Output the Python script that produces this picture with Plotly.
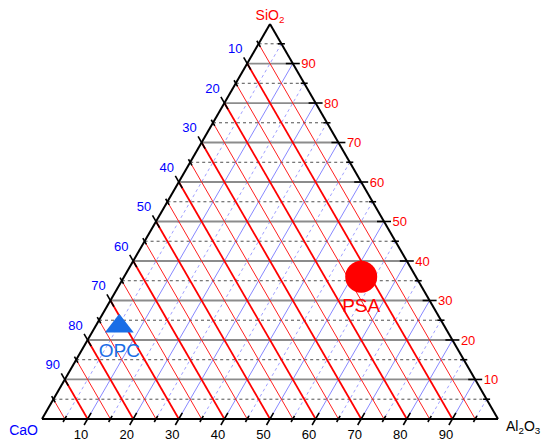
import plotly.graph_objects as go

# ---------------- data ----------------
materials = ["OPC", "PSA"]
sio2 = [23.5, 36.0]
cao = [71.3, 12.0]
al2o3 = [5.2, 52.0]

major_vals = [10, 20, 30, 40, 50, 60, 70, 80, 90]
minor_vals = [5, 15, 25, 35, 45, 55, 65, 75, 85, 95]
tick_labels = ["10", "20", "30", "40", "50", "60", "70", "80", "90"]

# ---------------- styles ----------------
FONT = "Liberation Sans, Arial, sans-serif"
BLUE_TXT = "#0000ff"
RED_TXT = "#ff0000"
OPC_COLOR = "#1a6ee6"
PSA_COLOR = "#ff0000"
CLEAR = "rgba(0,0,0,0)"
TICK_FS = 13
TITLE_FS = 14

fig = go.Figure()


def add_lines(kind, vals, color, width, dash):
    A, B, C = [], [], []
    for v in vals:
        if kind == "a":
            A += [v, v, None]; B += [100 - v, 0, None]; C += [0, 100 - v, None]
        elif kind == "b":
            B += [v, v, None]; A += [100 - v, 0, None]; C += [0, 100 - v, None]
        else:
            C += [v, v, None]; A += [100 - v, 0, None]; B += [0, 100 - v, None]
    fig.add_trace(go.Scatterternary(a=A, b=B, c=C, mode="lines",
                                    line=dict(color=color, width=width, dash=dash),
                                    hoverinfo="skip", connectgaps=False))


# grid: blue (constant Al2O3), gray (constant SiO2), red (constant CaO)
add_lines("c", minor_vals, "#a0a0ff", 1, "dot")
add_lines("c", major_vals, "#8888ff", 1, "solid")
add_lines("a", minor_vals, "#505050", 1, "dot")
add_lines("a", major_vals, "#8c8c8c", 1.8, "solid")
add_lines("b", minor_vals, "#ff2020", 1, "solid")
add_lines("b", major_vals, "#ff0000", 1.8, "solid")


# ---------------- ticks (rotated line markers centred on the edges) ----------------
def add_ticks(edge, vals, length):
    A, B, C = [], [], []
    for v in vals:
        if edge == "left":      # CaO ticks
            A.append(100 - v); B.append(v); C.append(0); ang = 60
        elif edge == "bottom":  # Al2O3 ticks
            A.append(0); B.append(100 - v); C.append(v); ang = -60
        else:                   # SiO2 ticks
            A.append(v); B.append(0); C.append(100 - v); ang = 0
    fig.add_trace(go.Scatterternary(
        a=A, b=B, c=C, mode="markers", cliponaxis=False, hoverinfo="skip",
        marker=dict(symbol="line-ew", size=length, angle=ang,
                    line=dict(color="black", width=1.6))))


for e in ["left", "bottom", "right"]:
    add_ticks(e, major_vals, 10)
    add_ticks(e, minor_vals, 5)


# ---------------- tick labels (text anchored at the edges) ----------------
def add_labels(edge, vals, labels, color):
    A, B, C = [], [], []
    for v in vals:
        if edge == "left":
            A.append(100 - v); B.append(v - 0.46); C.append(0.46)
            pos, msize = "top left", 9.4
        elif edge == "bottom":
            A.append(0.05); B.append(100 - v + 1.40); C.append(v - 1.45)
            pos, msize = "bottom center", 15.4
        else:
            A.append(v - 0.355); B.append(0.287); C.append(100 - v + 0.068)
            pos, msize = "middle right", 12.8
    fig.add_trace(go.Scatterternary(
        a=A, b=B, c=C, mode="markers+text", text=labels, cliponaxis=False,
        textposition=pos, hoverinfo="skip",
        marker=dict(size=msize, color=CLEAR),
        textfont=dict(family=FONT, size=TICK_FS, color=color)))


add_labels("left", major_vals, tick_labels, BLUE_TXT)
add_labels("bottom", major_vals, tick_labels, "black")
add_labels("right", major_vals, tick_labels, RED_TXT)

# ---------------- corner titles ----------------
titles = ["SiO<sub>2</sub>", "CaO", "Al<sub>2</sub>O<sub>3</sub>"]
title_colors = [RED_TXT, BLUE_TXT, "black"]
title_anchor = [(98.85, 0.575, 0.575), (0, 99.67, 0.33), (3.735, 0, 96.265)]
title_pos = ["top center", "bottom left", "bottom right"]
title_msize = [0, 7.2, 24.8]
for t, col, (pa, pb, pc), tp, ms in zip(titles, title_colors, title_anchor,
                                        title_pos, title_msize):
    fig.add_trace(go.Scatterternary(
        a=[pa], b=[pb], c=[pc], mode="markers+text", text=[t], cliponaxis=False,
        textposition=tp, hoverinfo="skip",
        marker=dict(size=ms, color=CLEAR),
        textfont=dict(family=FONT, size=TITLE_FS, color=col)))

# ---------------- data points ----------------
fig.add_trace(go.Scatterternary(
    a=[sio2[0]], b=[cao[0]], c=[al2o3[0]], mode="markers+text",
    text=[materials[0]], textposition="bottom center", cliponaxis=False,
    marker=dict(symbol="triangle-up", size=25, color=OPC_COLOR),
    textfont=dict(family=FONT, size=19, color=OPC_COLOR)))
fig.add_trace(go.Scatterternary(
    a=[sio2[1]], b=[cao[1]], c=[al2o3[1]], mode="markers+text",
    text=[materials[1]], textposition="bottom center", cliponaxis=False,
    marker=dict(symbol="circle", size=32, color=PSA_COLOR),
    textfont=dict(family=FONT, size=19, color=PSA_COLOR)))

axis_common = dict(showgrid=False, showticklabels=False, ticks="",
                   showline=True, linecolor="black", linewidth=2,
                   title=dict(text=""), min=0)
fig.update_layout(
    width=550, height=447,
    margin=dict(l=34, r=60, t=16, b=36),
    paper_bgcolor="white",
    showlegend=False,
    ternary=dict(sum=100, bgcolor="white",
                 aaxis=axis_common, baxis=axis_common, caxis=axis_common),
)

fig.write_html("out.html")
